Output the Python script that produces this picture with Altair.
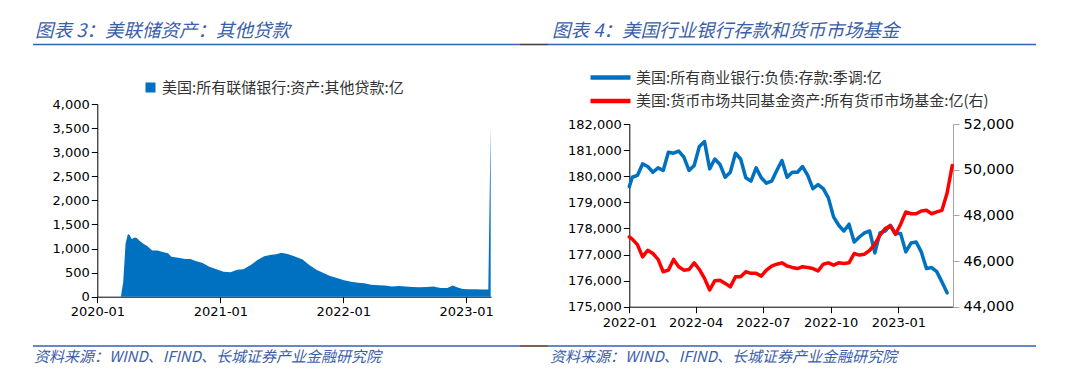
import altair as alt
import pandas as pd

W, H = 1064, 366

CJK = "Noto Sans CJK SC"
NUM = "DejaVu Sans"
BLUE = "#0070C0"
RED = "#FF0000"
TITLE_BLUE = "#3A5EA8"
LINE_BLUE = "#2F62B3"

LEFT_TITLE = "图表 3：美联储资产：其他贷款"
RIGHT_TITLE = "图表 4：美国行业银行存款和货币市场基金"
SOURCE = "资料来源：WIND、IFIND、长城证券产业金融研究院"

LEFT_NAME = "美国:所有联储银行:资产:其他贷款:亿"
BLUE_NAME = "美国:所有商业银行:负债:存款:季调:亿"
RED_NAME = "美国:货币市场共同基金资产:所有货币市场基金:亿(右)"

left_dates = [
    "2020-01-01", "2020-03-11", "2020-03-18", "2020-03-25", "2020-04-01", "2020-04-06",
    "2020-04-12", "2020-04-22", "2020-04-27", "2020-05-07", "2020-05-17", "2020-05-28",
    "2020-06-12", "2020-06-28", "2020-07-13", "2020-07-29", "2020-08-08", "2020-08-29",
    "2020-09-18", "2020-10-04", "2020-10-19", "2020-11-09", "2020-11-29", "2020-12-20",
    "2021-01-10", "2021-01-31", "2021-02-20", "2021-03-10", "2021-04-01", "2021-04-21",
    "2021-05-11", "2021-06-01", "2021-06-16", "2021-07-01", "2021-07-22", "2021-08-12",
    "2021-09-02", "2021-09-22", "2021-10-13", "2021-11-03", "2021-11-23", "2021-12-13",
    "2022-01-03", "2022-01-24", "2022-02-14", "2022-03-04", "2022-03-25", "2022-04-15",
    "2022-05-05", "2022-05-25", "2022-06-15", "2022-07-05", "2022-07-26", "2022-08-16",
    "2022-09-06", "2022-09-26", "2022-10-17", "2022-11-06", "2022-11-22", "2022-12-07",
    "2022-12-22", "2023-01-08", "2023-01-28", "2023-02-18", "2023-03-08", "2023-03-15",
]
left_values = [
    0, 0, 300, 1100, 1300, 1280,
    1200, 1230, 1220, 1150, 1100, 1050,
    960, 960, 930, 900, 830, 810,
    780, 780, 740, 700, 620, 570,
    520, 510, 560, 570, 660, 760,
    840, 870, 880, 910, 880, 830,
    770, 660, 560, 490, 430, 390,
    340, 310, 290, 280, 250, 240,
    230, 210, 220, 210, 200, 195,
    200, 210, 180, 180, 230, 190,
    160, 155, 155, 150, 150, 3550,
]

week_dates = [d.strftime("%Y-%m-%d") for d in pd.date_range("2022-01-05", "2023-03-15", freq="7D")]
blue_dates = ["2022-01-01"] + week_dates[:62]
blue_values = [
    179600,
    179960, 180030, 180470, 180370, 180150, 180320, 180220, 180920, 180880, 180960,
    180730, 180220, 180410, 181140, 181330, 180280, 180660, 180450, 179960, 180150,
    180880, 180660, 179940, 179810, 180320, 179940, 179730, 179810, 180220, 180600,
    179960, 180150, 180150, 180370, 180030, 179520, 179680, 179520, 179170, 178440,
    178120, 177900, 178160, 177480, 177670, 177830, 177900, 177060, 177830, 177900,
    178120, 177800, 177800, 177100, 177440, 177480, 177100, 176460, 176500, 176340,
    175950, 175530,
]
red_dates = ["2022-01-01"] + week_dates
red_values = [
    47060,
    46960, 46720, 46180, 46470, 46330, 46070, 45530, 45600, 46070, 45750,
    45600, 45630, 45920, 45630, 45240, 44730, 45140, 45160, 45020, 44870,
    45310, 45310, 45530, 45460, 45460, 45340, 45600, 45780, 45860, 45920,
    45780, 45720, 45670, 45750, 45720, 45670, 45570, 45860, 45920, 45820,
    45920, 45890, 45920, 46330, 46260, 46300, 46470, 46740, 47130, 47420,
    47540, 47170, 47610, 48150, 48070, 48070, 48190, 48220, 48070, 48150,
    48220, 48980, 50180,
]

left_ticks = [0, 500, 1000, 1500, 2000, 2500, 3000, 3500, 4000]
blue_ticks = [175000, 176000, 177000, 178000, 179000, 180000, 181000, 182000]
red_ticks = [44000, 46000, 48000, 50000, 52000]


def dt(y, m, d):
    return alt.DateTime(year=y, month=m, date=d)


left_df = pd.DataFrame({"date": pd.to_datetime(left_dates), "value": left_values, "series": LEFT_NAME})
blue_df = pd.DataFrame({"date": pd.to_datetime(blue_dates), "value": blue_values, "series": BLUE_NAME})
red_df = pd.DataFrame({"date": pd.to_datetime(red_dates), "value": red_values, "series": RED_NAME})

# ---------- left panel ----------
L_X0, L_X1 = 89.3, 483
L_Y0, L_Y1 = 288.7, 96

area = alt.Chart(left_df).mark_area(interpolate="linear").encode(
    x=alt.X(
        "date:T",
        scale=alt.Scale(domain=[dt(2020, 1, 1), dt(2023, 3, 16)], range=[L_X0, L_X1]),
        axis=alt.Axis(
            orient="bottom", offset=L_Y0 - H, title=None,
            values=[dt(2020, 1, 1), dt(2021, 1, 1), dt(2022, 1, 1), dt(2023, 1, 1)],
            format="%Y-%m", labelFlush=False, labelOverlap=False,
            tickSize=6, labelPadding=3,
        ),
    ),
    y=alt.Y(
        "value:Q",
        scale=alt.Scale(domain=[0, 4000], range=[L_Y0, L_Y1], nice=False),
        axis=alt.Axis(
            orient="left", offset=-L_X0, title=None, values=left_ticks,
            format=",.0f", tickSize=6, labelPadding=2,
        ),
    ),
    color=alt.Color(
        "series:N",
        scale=alt.Scale(domain=[LEFT_NAME], range=[BLUE]),
        legend=alt.Legend(
            orient="none", legendX=135, legendY=72, direction="vertical", title=None,
            symbolType="square", symbolSize=100, symbolStrokeWidth=0,
            labelFont=CJK, labelFontSize=15, labelColor="#333333", labelOffset=4,
            labelLimit=600, padding=0,
        ),
    ),
)

# ---------- right panel ----------
R_X0, R_X1 = 621.3, 945
R_Y0, R_Y1 = 298.7, 116
x_dom = [dt(2022, 1, 1), dt(2023, 3, 16)]
color_scale = alt.Scale(domain=[BLUE_NAME, RED_NAME], range=[BLUE, RED])

blue_line = alt.Chart(blue_df).mark_line(strokeWidth=3.5, strokeJoin="round", strokeCap="round").encode(
    x=alt.X(
        "date:T",
        scale=alt.Scale(domain=x_dom, range=[R_X0, R_X1]),
        axis=alt.Axis(
            orient="bottom", offset=R_Y0 - H, title=None,
            values=[dt(2022, 1, 1), dt(2022, 4, 1), dt(2022, 7, 1), dt(2022, 10, 1), dt(2023, 1, 1)],
            format="%Y-%m", labelFlush=False, labelOverlap=False,
            tickSize=6, labelPadding=4,
        ),
    ),
    y=alt.Y(
        "value:Q",
        scale=alt.Scale(domain=[175000, 182000], range=[R_Y0, R_Y1], nice=False, zero=False),
        axis=alt.Axis(
            orient="left", offset=-R_X0, title=None, values=blue_ticks,
            format=",.0f", tickSize=6, labelPadding=2,
        ),
    ),
    color=alt.Color(
        "series:N", scale=color_scale,
        legend=alt.Legend(
            orient="none", legendX=580, legendY=59.5, direction="vertical", title=None,
            symbolType="stroke", symbolSize=1600, symbolStrokeWidth=4.5,
            labelFont=CJK, labelFontSize=15, labelColor="#333333", labelOffset=3,
            labelLimit=600, clipHeight=20, rowPadding=3.5, padding=0,
        ),
    ),
)

red_line = alt.Chart(red_df).mark_line(strokeWidth=3.5, strokeJoin="round", strokeCap="round").encode(
    x=alt.X("date:T", scale=alt.Scale(domain=x_dom, range=[R_X0, R_X1]), axis=None),
    y=alt.Y(
        "value:Q",
        scale=alt.Scale(domain=[44000, 52000], range=[R_Y0, R_Y1], nice=False, zero=False),
        axis=alt.Axis(
            orient="right", offset=R_X1 - W, title=None, values=red_ticks,
            format=",.0f", tickSize=6, labelPadding=4, labelFontSize=14.5,
            domainColor="#A6A6A6", tickColor="#A6A6A6",
        ),
    ),
    color=alt.Color("series:N", scale=color_scale, legend=None),
)

# ---------- decorations ----------
one = alt.Data(values=[{"k": 1}])


def text_layer(txt, x, y, size, style="italic"):
    return alt.Chart(one).mark_text(
        text=txt, align="left", baseline="alphabetic", font=CJK,
        fontSize=size, fontStyle=style, color=TITLE_BLUE,
    ).encode(x=alt.value(x), y=alt.value(y))


def rule_layer(x0, x1, y, color):
    return alt.Chart(one).mark_rule(color=color, strokeWidth=1.6).encode(
        x=alt.value(x0), x2=alt.value(x1), y=alt.value(y)
    )


decor = [
    text_layer(LEFT_TITLE, 27, 29, 18.5),
    text_layer(RIGHT_TITLE, 544, 29, 18.5),
    text_layer(SOURCE, 26, 354, 15),
    text_layer(SOURCE, 542, 354, 15),
    rule_layer(25, 512, 36.5, LINE_BLUE),
    rule_layer(512, 540, 36.5, "#404040"),
    rule_layer(540, 1028, 36.5, LINE_BLUE),
    rule_layer(25, 512, 338, LINE_BLUE),
    rule_layer(512, 540, 338, "#5A3A2A"),
    rule_layer(540, 1028, 338, LINE_BLUE),
]

chart = alt.layer(area, blue_line, red_line, *decor).resolve_scale(
    x="independent", y="independent", color="independent"
).resolve_axis(
    x="independent", y="independent"
).resolve_legend(
    color="independent"
).properties(
    width=W, height=H, padding=0,
    autosize=alt.AutoSizeParams(type="none"),
).configure_view(
    stroke=None
).configure_axis(
    labelFont=NUM, labelFontSize=13, labelColor="#000000",
    domainColor="#000000", tickColor="#000000", domainWidth=1, tickWidth=1,
    grid=False,
)

chart.save("out.html", embed_options={"renderer": "svg", "actions": False})
